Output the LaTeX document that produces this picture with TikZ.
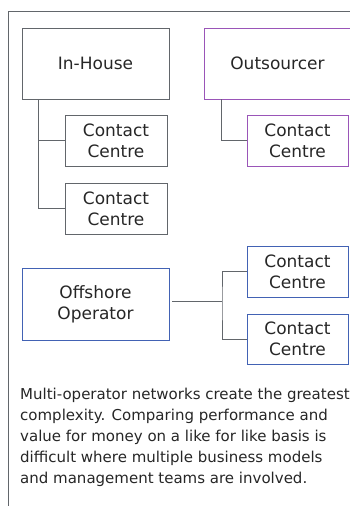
\documentclass[tikz,border=0pt]{standalone}
\usepackage{fontspec}
\setmainfont{DejaVu Sans}
\usetikzlibrary{positioning}
\definecolor{orgink}{HTML}{62666B}
\definecolor{orgpurple}{HTML}{9A55B8}
\definecolor{orgblue}{HTML}{4262B4}

\begin{document}
\begin{tikzpicture}[
  x=1pt,y=-1pt,
  every node/.style={align=center,inner sep=0pt,font=\fontsize{17}{21}\selectfont,text=black!85},
  unit/.style={draw=orgink,line width=0.9pt,minimum width=147pt,minimum height=71pt},
  centre/.style={draw=orgink,line width=0.9pt,minimum width=102pt,minimum height=51pt},
  link/.style={draw=orgink,line width=1pt}
]
\useasboundingbox (0,0) rectangle (350,506);
\clip (0,0) rectangle (350,506);
% outer frame, open at the right and bottom
\draw[orgink,line width=1.1pt] (8.5,506) -- (8.5,11.5) -- (352,11.5);

% in-house operator and its centres
\node[unit] (inhouse) at (95.5,63.5) {In-House};
\node[centre] (ihc1) at (116,140.5) {Contact\\Centre};
\node[centre] (ihc2) at (116,208.5) {Contact\\Centre};
\coordinate (ihtrunk) at (38,99);
\draw[link] (ihtrunk) |- (ihc1.west);
\draw[link] (ihtrunk) |- (ihc2.west);

% outsourced operator
\node[unit,draw=orgpurple] (outsrc) at (277.5,63.5) {Outsourcer};
\node[centre,draw=orgpurple,minimum width=101pt] (osc1) at (297.5,140.5) {Contact\\Centre};
\coordinate (ostrunk) at (221,99);
\draw[link] (ostrunk) |- (osc1.west);

% offshore operator
\node[unit,draw=orgblue,minimum height=72pt] (offshore) at (95.5,304) {Offshore\\Operator};
\node[centre,draw=orgblue,minimum width=101pt] (ofc1) at (297.5,271.5) {Contact\\Centre};
\node[centre,draw=orgblue,minimum width=101pt,minimum height=50pt] (ofc2) at (297.5,339) {Contact\\Centre};
\coordinate (ofjoin) at (222,301.5);
\draw[link,shorten <=3pt] (offshore.east |- ofjoin) -- (ofjoin);
\draw[link] (ofc1.west) -| (ofjoin) |- (ofc2.west);

\node[anchor=north west,align=left,font=\fontsize{15}{21}\selectfont] (note) at (20,388)
  {Multi-operator networks create the greatest\\
   complexity. Comparing performance and\\
   value for money on a like for like basis is\\
   difficult where multiple business models\\
   and management teams are involved.};
\end{tikzpicture}
\end{document}
